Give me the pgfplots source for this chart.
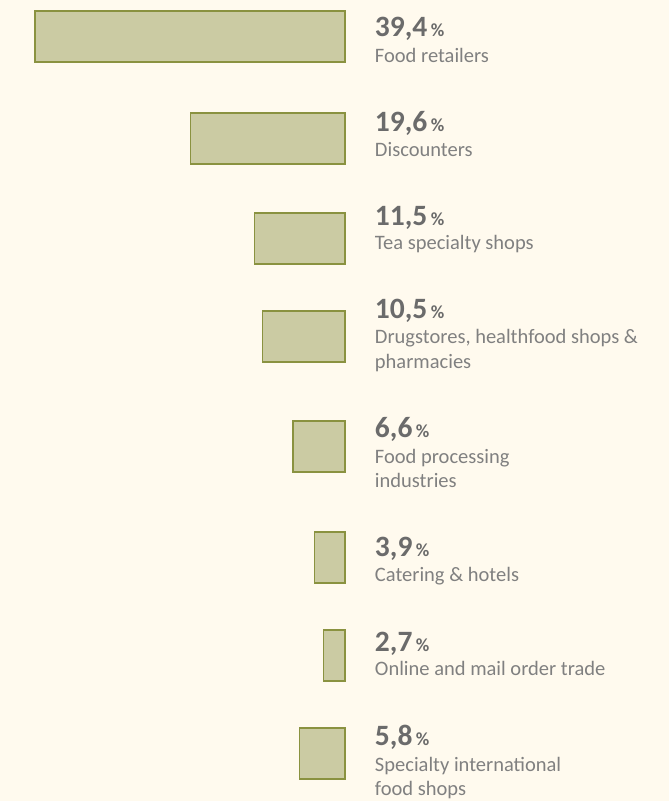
\documentclass[border=0pt]{standalone}
\usepackage{pgfplots}
\pgfplotsset{compat=1.18}
\usepackage{fontspec}
\setmainfont{Carlito}
\definecolor{bg}{HTML}{FFFAEE}
\definecolor{barfill}{HTML}{CBCBA3}
\definecolor{barline}{HTML}{8A9240}
\definecolor{numcol}{HTML}{6B6B6B}
\definecolor{labcol}{HTML}{808080}
\newcommand{\num}[1]{{\fontsize{29.5}{29.5}\selectfont\bfseries #1}\hspace{3.5pt}{\fontsize{18.5}{18.5}\selectfont\bfseries\%}}
\newcommand{\lab}[1]{{\fontsize{20.5}{20.5}\selectfont #1}}
\tikzset{txt/.style={anchor=base west, inner sep=0pt, outer sep=0pt}}
\begin{document}
\begin{tikzpicture}
\pgfplotstableread{
val ypos
39.4 36.5
19.6 138.5
11.5 238.5
10.5 336.5
6.6 446.5
3.9 557.5
2.7 655.5
5.8 753.5
}\shares
\begin{axis}[
  width=669pt, height=801pt, scale only axis,
  xmin=-41.18, xmax=43.85, x dir=reverse,
  ymin=0, ymax=801, y dir=reverse,
  axis line style={draw=none}, xtick=\empty, ytick=\empty,
  axis background/.style={fill=bg},
  xbar, bar width=51,
  clip=false,
]
\addplot[fill=barfill, draw=barline, line width=1.2pt] table[x=val, y=ypos] {\shares};
% labels
\node[txt,text=numcol] at (axis cs:-3.81,36.5) {\num{39,4}};
\node[txt,text=labcol] at (axis cs:-3.81,62) {\lab{Food retailers}};
\node[txt,text=numcol] at (axis cs:-3.81,131.7) {\num{19,6}};
\node[txt,text=labcol] at (axis cs:-3.81,156.5) {\lab{Discounters}};
\node[txt,text=numcol] at (axis cs:-3.81,225) {\num{11,5}};
\node[txt,text=labcol] at (axis cs:-3.81,249.5) {\lab{Tea specialty shops}};
\node[txt,text=numcol] at (axis cs:-3.81,318.5) {\num{10,5}};
\node[txt,text=labcol] at (axis cs:-3.81,343.5) {\lab{Drugstores, healthfood shops \&}};
\node[txt,text=labcol] at (axis cs:-3.81,368) {\lab{pharmacies}};
\node[txt,text=numcol] at (axis cs:-3.81,437) {\num{6,6}};
\node[txt,text=labcol] at (axis cs:-3.81,463) {\lab{Food processing}};
\node[txt,text=labcol] at (axis cs:-3.81,487.5) {\lab{industries}};
\node[txt,text=numcol] at (axis cs:-3.81,556.7) {\num{3,9}};
\node[txt,text=labcol] at (axis cs:-3.81,581.7) {\lab{Catering \& hotels}};
\node[txt,text=numcol] at (axis cs:-3.81,651.5) {\num{2,7}};
\node[txt,text=labcol] at (axis cs:-3.81,675.5) {\lab{Online and mail order trade}};
\node[txt,text=numcol] at (axis cs:-3.81,745) {\num{5,8}};
\node[txt,text=labcol] at (axis cs:-3.81,771) {\lab{Specialty international}};
\node[txt,text=labcol] at (axis cs:-3.81,795.5) {\lab{food shops}};
\end{axis}
\pgfresetboundingbox
\path (current axis.south west) rectangle (current axis.north east);
\end{tikzpicture}
\end{document}
